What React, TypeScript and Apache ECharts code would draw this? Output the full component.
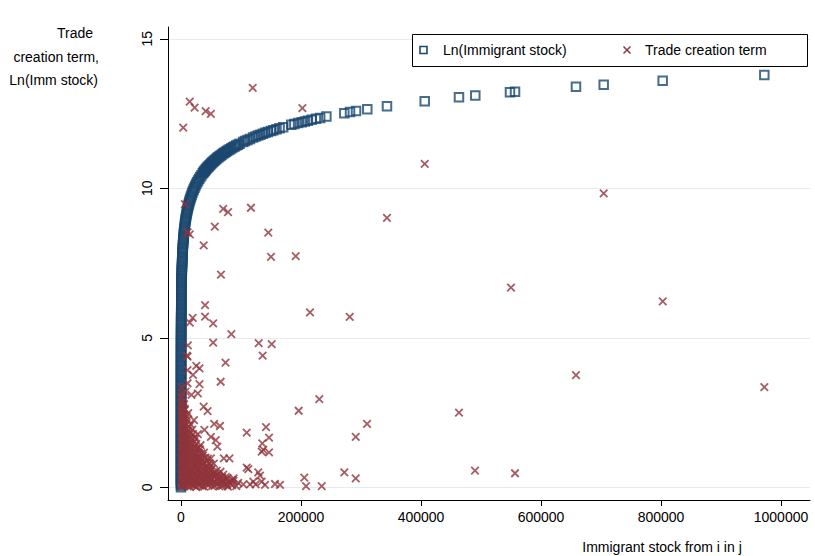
import React, { useEffect, useRef } from "react";
import * as echarts from "echarts";

const xTicks = [0, 200000, 400000, 600000, 800000, 1000000];
const yTicks = [0, 5, 10, 15];

const seriesNames = ["Ln(Immigrant stock)", "Trade creation term"];
const yTitleLines = ["Trade", "creation term,", "Ln(Imm stock)"];
const xTitle = "Immigrant stock from i in j";

// [immigrant stock, ln(immigrant stock)]
const lnImmPoints: number[][] = [
  [1, 0.0], [1, 0.06], [1, 0.12], [1, 0.18], [1, 0.24], [1, 0.3], [1, 0.36], [2, 0.42], [2, 0.48], [2, 0.54],
  [2, 0.6], [2, 0.66], [2, 0.72], [2, 0.78], [2, 0.84], [2, 0.9], [3, 0.96], [3, 1.02], [3, 1.08], [3, 1.14],
  [3, 1.2], [4, 1.26], [4, 1.32], [4, 1.38], [4, 1.44], [4, 1.5], [5, 1.56], [5, 1.62], [5, 1.68], [6, 1.74],
  [6, 1.8], [6, 1.86], [7, 1.92], [7, 1.98], [8, 2.04], [8, 2.1], [9, 2.16], [9, 2.22], [10, 2.28], [10, 2.34],
  [11, 2.4], [12, 2.46], [12, 2.52], [13, 2.58], [14, 2.64], [15, 2.7], [16, 2.76], [17, 2.82], [18, 2.88], [19, 2.94],
  [20, 3.0], [21, 3.06], [23, 3.12], [24, 3.18], [26, 3.24], [27, 3.3], [29, 3.36], [31, 3.42], [32, 3.48], [34, 3.54],
  [37, 3.6], [39, 3.66], [41, 3.72], [44, 3.78], [47, 3.84], [49, 3.9], [52, 3.96], [56, 4.02], [59, 4.08], [63, 4.14],
  [67, 4.2], [71, 4.26], [75, 4.32], [80, 4.38], [85, 4.44], [90, 4.5], [96, 4.56], [101, 4.62], [108, 4.68], [114, 4.74],
  [121, 4.8], [129, 4.86], [137, 4.92], [145, 4.98], [154, 5.04], [164, 5.1], [174, 5.16], [185, 5.22], [196, 5.28], [208, 5.34],
  [221, 5.4], [235, 5.46], [250, 5.52], [265, 5.58], [281, 5.64], [299, 5.7], [317, 5.76], [337, 5.82], [358, 5.88], [380, 5.94],
  [403, 6.0], [428, 6.06], [455, 6.12], [483, 6.18], [513, 6.24], [545, 6.3], [578, 6.36], [614, 6.42], [652, 6.48], [692, 6.54],
  [735, 6.6], [780, 6.66], [829, 6.72], [880, 6.78], [934, 6.84], [992, 6.9], [1054, 6.96],
  [1119, 7.02], [1188, 7.08], [1262, 7.14], [1339, 7.2], [1422, 7.26], [1510, 7.32], [1604, 7.38], [1703, 7.44], [1808, 7.5], [1920, 7.56],
  [2039, 7.62], [2165, 7.68], [2298, 7.74], [2441, 7.8], [2591, 7.86], [2752, 7.92], [2922, 7.98], [3102, 8.04], [3294, 8.1], [3498, 8.16],
  [3714, 8.22], [3944, 8.28], [4187, 8.34], [4447, 8.4], [4721, 8.46], [5013, 8.52], [5323, 8.58], [5653, 8.64], [6003, 8.7], [6373, 8.76],
  [6768, 8.82], [7186, 8.88], [7630, 8.94], [8103, 9.0], [8604, 9.06], [9136, 9.12], [9701, 9.18], [10301, 9.24], [10938, 9.3], [11614, 9.36],
  [12333, 9.42], [13095, 9.48], [13905, 9.54], [14765, 9.6], [15678, 9.66], [16647, 9.72], [17677, 9.78], [18770, 9.84], [19930, 9.9], [21163, 9.96],
  [22471, 10.02], [23861, 10.08], [25336, 10.14], [26903, 10.2], [28566, 10.26], [30333, 10.32], [32208, 10.38], [34200, 10.44], [36316, 10.5],
  [37421, 10.53], [38561, 10.56], [39735, 10.59], [40945, 10.62], [42192, 10.65], [43477, 10.68], [44801, 10.71], [46166, 10.74], [47572, 10.77],
  [49021, 10.8], [50514, 10.83], [52052, 10.86], [53637, 10.89], [55271, 10.92], [56954, 10.95], [58689, 10.98], [60476, 11.01], [62318, 11.04],
  [64216, 11.07], [66171, 11.1], [68187, 11.13], [70263, 11.16], [72403, 11.19], [74608, 11.22], [76880, 11.25], [79222, 11.28], [81634, 11.31],
  [84120, 11.34], [86682, 11.37], [89322, 11.4], [92042, 11.43], [94846, 11.46], [97734, 11.49],
  [103700, 11.549], [106800, 11.579], [110900, 11.616], [115000, 11.653], [120100, 11.696], [124200, 11.73], [128300, 11.762],
  [132400, 11.794], [136500, 11.824], [140700, 11.854], [144800, 11.883], [149900, 11.918], [154000, 11.945], [159100, 11.977],
  [164300, 12.01], [170400, 12.046], [183800, 12.122], [188900, 12.149], [195100, 12.181], [201200, 12.212], [206400, 12.238],
  [211500, 12.262], [217700, 12.291], [224800, 12.323], [232000, 12.354], [242300, 12.398], [272200, 12.514], [281700, 12.549],
  [291700, 12.584], [310500, 12.646], [343300, 12.746], [406200, 12.915], [463300, 13.046], [490500, 13.103], [548300, 13.215],
  [556700, 13.23], [658300, 13.397], [704500, 13.465], [802800, 13.596], [972200, 13.787],
];

// [immigrant stock, trade creation term]
const tradeCreationPoints: number[][] = [
  // scattered points
  [119500, 13.36], [14600, 12.9], [22700, 12.7], [41100, 12.58], [49800, 12.49], [3700, 12.03], [202300, 12.68],
  [406200, 10.82], [704500, 9.83], [6500, 9.47], [70300, 9.31], [78400, 9.2], [116600, 9.35], [343300, 9.01],
  [56300, 8.72], [10900, 8.53], [14600, 8.46], [145500, 8.52], [37800, 8.09], [150000, 7.71], [191200, 7.73],
  [66600, 7.11], [550000, 6.68], [802900, 6.22], [40100, 6.09], [215000, 5.85], [40100, 5.71], [19500, 5.67],
  [281200, 5.7], [14600, 5.51], [53600, 5.48], [83900, 5.12], [11400, 4.75], [53600, 4.84], [129500, 4.82],
  [151100, 4.79], [136100, 4.4], [9700, 4.4], [10900, 4.37], [74200, 4.17], [25500, 4.06], [30800, 3.98],
  [10900, 3.92], [20000, 3.76], [658300, 3.75], [66100, 3.53], [30800, 3.45], [10900, 3.48], [972200, 3.35],
  [7600, 3.2], [28100, 3.14], [17400, 3.09], [230500, 2.95], [37800, 2.7], [44300, 2.55], [196100, 2.56],
  [463300, 2.5], [6500, 2.59], [21600, 2.25], [55200, 2.12], [64900, 2.05], [310100, 2.12], [39000, 1.92],
  [109500, 1.83], [141700, 2.01], [28100, 1.78], [146700, 1.66], [49800, 1.69], [291200, 1.69], [135500, 1.47],
  [137200, 1.25], [146700, 1.17], [134500, 1.19], [58000, 1.58], [60600, 1.36], [49800, 0.97], [71400, 0.97],
  [80700, 0.97], [109500, 0.66], [128800, 0.5], [131600, 0.39], [87700, 0.3], [103800, 0.1], [115000, 0.1],
  [124500, 0.1], [140000, 0.08], [156700, 0.11], [165000, 0.08], [68700, 0.24], [76800, 0.08], [205500, 0.32],
  [208400, 0.04], [234500, 0.04], [272200, 0.5], [291200, 0.3], [490000, 0.56], [556700, 0.47], [120500, 0.19],
  [134500, 0.19], [112200, 0.61], [84900, 0.24],
  // dense cluster near the origin
  [400, 0.02], [1200, 0.11], [700, 0.2], [2100, 0.33], [900, 0.41], [1600, 0.55], [500, 0.63], [2400, 0.76],
  [1100, 0.88], [300, 0.97], [1900, 1.09], [800, 1.18], [1400, 1.31], [2200, 1.42], [600, 1.53], [1700, 1.66],
  [1000, 1.74], [2500, 1.87], [450, 1.98], [1300, 2.09], [2000, 2.21], [800, 2.35], [1500, 2.46], [350, 2.58],
  [2300, 2.71], [1100, 2.83], [600, 3.02], [1800, 3.17], [900, 3.34],
  [3100, 0.08], [2900, 0.24], [3400, 0.37], [2700, 0.47], [3300, 0.6], [3000, 0.71], [2800, 0.83], [3500, 0.94],
  [3200, 1.06], [2900, 1.22], [3300, 1.35], [3100, 1.47], [2700, 1.58], [3400, 1.71], [3000, 1.83], [2800, 1.95],
  [3200, 2.12], [3500, 2.27], [2900, 2.4], [3100, 2.53], [3300, 2.66], [2700, 2.9],
  [5200, 0.05], [4300, 0.17], [7100, 0.29], [5900, 0.4], [4700, 0.52], [7600, 0.66], [5400, 0.78], [4100, 0.91],
  [6800, 1.03], [5000, 1.14], [7900, 1.27], [4500, 1.39], [6300, 1.51], [5600, 1.63], [7300, 1.77], [4200, 1.9],
  [6600, 2.03], [5100, 2.17], [7700, 2.3], [4800, 2.44], [6100, 2.62], [5300, 2.77],
  [8700, 0.1], [9300, 0.22], [9000, 0.34], [8500, 0.46], [9500, 0.58], [8800, 0.7], [9200, 0.82], [8600, 0.94],
  [9400, 1.08], [8900, 1.2], [9100, 1.32], [8700, 1.44], [9300, 1.57], [9000, 1.7], [8600, 1.83], [9200, 1.97],
  [8800, 2.12], [9400, 2.38],
  [11200, 0.03], [13400, 0.14], [10500, 0.27], [12700, 0.38], [11800, 0.5], [13900, 0.63], [10300, 0.74],
  [12200, 0.87], [13100, 0.99], [10800, 1.12], [12500, 1.24], [11500, 1.36], [13700, 1.49], [10100, 1.62],
  [12900, 1.75], [11300, 1.89], [13500, 2.02], [10700, 2.26], [12100, 2.48],
  [15200, 0.02], [15900, 0.13], [15400, 0.25], [16100, 0.36], [15000, 0.47], [15700, 0.59], [16300, 0.72],
  [15300, 0.85], [15800, 0.97], [15100, 1.1], [16000, 1.22], [15500, 1.35], [15200, 1.5], [15900, 1.66],
  [15400, 1.82], [16200, 2.1],
  [18400, 0.07], [20300, 0.19], [17200, 0.31], [19600, 0.44], [18000, 0.57], [20800, 0.69], [17500, 0.82],
  [19100, 0.95], [20500, 1.07], [17800, 1.21], [19900, 1.33], [18600, 1.46], [17300, 1.6], [20100, 1.78], [18800, 1.93],
  [22100, 0.06], [23000, 0.18], [22400, 0.31], [22800, 0.43], [21900, 0.55], [22600, 0.68], [23200, 0.81],
  [22200, 0.93], [22900, 1.06], [22000, 1.2], [22700, 1.35], [22300, 1.52], [22800, 1.69],
  [25300, 0.01], [27400, 0.13], [24200, 0.25], [26600, 0.37], [25800, 0.49], [27900, 0.62], [24600, 0.75],
  [26200, 0.88], [27100, 1.02], [24900, 1.16], [26800, 1.29], [25500, 1.45], [24400, 1.62],
  [29100, 0.09], [29800, 0.21], [29300, 0.34], [30200, 0.47], [28900, 0.6], [29600, 0.73], [30000, 0.87],
  [29200, 1.0], [29900, 1.15], [29400, 1.32],
  [32400, 0.06], [34600, 0.18], [31300, 0.3], [33700, 0.43], [32000, 0.56], [34900, 0.7], [31800, 0.84],
  [33200, 0.98], [34100, 1.13], [31500, 1.27], [32800, 1.41],
  [35800, 0.04], [36300, 0.17], [35600, 0.31], [36500, 0.46], [35900, 0.6], [36200, 0.76], [35700, 0.92], [36400, 1.06],
  [38600, 0.02], [41200, 0.15], [37400, 0.28], [40300, 0.41], [39100, 0.54], [41700, 0.68], [37900, 0.83],
  [40800, 0.99], [38300, 1.16],
  [42700, 0.11], [43400, 0.25], [42900, 0.4], [43200, 0.56], [42600, 0.72], [43500, 0.88],
  [45600, 0.08], [47500, 0.21], [44300, 0.35], [46800, 0.49], [45100, 0.64], [47200, 0.8], [44700, 0.96],
  [48700, 0.13], [49300, 0.27], [48900, 0.42], [49500, 0.57], [48600, 0.72],
  [51800, 0.04], [54300, 0.17], [50600, 0.31], [53200, 0.46], [51200, 0.62], [54700, 0.79],
  [55800, 0.05], [56400, 0.2], [55900, 0.33], [56600, 0.48],
  [58400, 0.1], [60700, 0.24], [57300, 0.39], [59600, 0.56],
  [61800, 0.13], [62500, 0.29], [62100, 0.44],
  [64100, 0.03], [66500, 0.18], [63500, 0.36], [65800, 0.52],
  [68500, 0.05], [69200, 0.17], [68900, 0.33],
  [71200, 0.09], [73600, 0.26], [70400, 0.42],
  [75200, 0.12], [74800, 0.35],
  [78300, 0.02], [80600, 0.18], [77400, 0.31],
  [82300, 0.12],
  [85200, 0.07], [87500, 0.22],
  [92100, 0.04], [95300, 0.15],
];

const NAVY = "#1a476f";
const MAROON = "#90353b";
const FONT = "'Liberation Sans', Arial, sans-serif";

export default function App() {
  const ref = useRef<HTMLDivElement>(null);
  useEffect(() => {
    const chart = echarts.init(ref.current!, null, { renderer: "svg" });
    chart.setOption({
      animation: false,
      backgroundColor: "#fff",
      textStyle: { fontFamily: FONT },
      grid: { left: 168, right: 5, top: 27, bottom: 56, outerBoundsMode: "none", containLabel: false },
      xAxis: {
        type: "value",
        min: -21667,
        max: 1048333,
        axisLine: { show: true, onZero: false, lineStyle: { color: "#000", width: 1 } },
        axisTick: { show: true, length: 6, customValues: xTicks, lineStyle: { color: "#000" } },
        axisLabel: {
          customValues: xTicks,
          margin: 10,
          fontSize: 14,
          color: "#000",
          fontFamily: FONT,
          formatter: (v: number) => String(v),
        },
        splitLine: { show: false },
      },
      yAxis: {
        type: "value",
        min: -0.425,
        max: 15.395,
        axisLine: { show: true, onZero: false, lineStyle: { color: "#000", width: 1 } },
        axisTick: { show: true, length: 8, customValues: yTicks, lineStyle: { color: "#000" } },
        axisLabel: {
          customValues: yTicks,
          rotate: 90,
          margin: 14,
          fontSize: 14,
          color: "#000",
          fontFamily: FONT,
          formatter: (v: number) => String(v),
        },
        splitLine: { show: true, lineStyle: { color: "#e4ecef", width: 1 } },
      },
      series: [
        {
          type: "scatter",
          name: seriesNames[0],
          data: lnImmPoints,
          symbol: "rect",
          symbolSize: 8.5,
          itemStyle: { color: "rgba(0,0,0,0)", borderColor: NAVY, borderWidth: 2 },
          z: 2,
        },
        {
          type: "scatter",
          name: seriesNames[1],
          data: tradeCreationPoints,
          symbol: "path://M0 0L10 10M10 0L0 10",
          symbolSize: 7.5,
          itemStyle: { color: "rgba(0,0,0,0)", borderColor: MAROON, borderWidth: 1.8 },
          z: 3,
        },
      ],
      graphic: [
        {
          type: "rect",
          z: 10,
          shape: { x: 412.5, y: 34.5, width: 395, height: 32 },
          style: { fill: "#fff", stroke: "#000", lineWidth: 1 },
        },
        {
          type: "rect",
          z: 11,
          shape: { x: 420, y: 46.5, width: 7, height: 7 },
          style: { fill: "none", stroke: NAVY, lineWidth: 1.6 },
        },
        {
          type: "text",
          z: 11,
          x: 443,
          y: 50,
          style: { text: seriesNames[0], fontSize: 14, fill: "#000", verticalAlign: "middle", fontFamily: FONT },
        },
        {
          type: "line",
          z: 11,
          shape: { x1: 623.5, y1: 46.5, x2: 630.5, y2: 53.5 },
          style: { stroke: MAROON, lineWidth: 1.5 },
        },
        {
          type: "line",
          z: 11,
          shape: { x1: 630.5, y1: 46.5, x2: 623.5, y2: 53.5 },
          style: { stroke: MAROON, lineWidth: 1.5 },
        },
        {
          type: "text",
          z: 11,
          x: 645,
          y: 50,
          style: { text: seriesNames[1], fontSize: 14, fill: "#000", verticalAlign: "middle", fontFamily: FONT },
        },
        {
          type: "text",
          x: 93,
          y: 33,
          style: { text: yTitleLines[0], fontSize: 14, fill: "#000", align: "right", verticalAlign: "middle", fontFamily: FONT },
        },
        {
          type: "text",
          x: 99,
          y: 57,
          style: { text: yTitleLines[1], fontSize: 14, fill: "#000", align: "right", verticalAlign: "middle", fontFamily: FONT },
        },
        {
          type: "text",
          x: 98,
          y: 80,
          style: { text: yTitleLines[2], fontSize: 14, fill: "#000", align: "right", verticalAlign: "middle", fontFamily: FONT },
        },
        {
          type: "text",
          x: 662,
          y: 547,
          style: { text: xTitle, fontSize: 14, fill: "#000", align: "center", verticalAlign: "middle", fontFamily: FONT },
        },
      ],
    });
    return () => chart.dispose();
  }, []);
  return <div ref={ref} style={{ position: "fixed", left: 0, top: 0, width: 815, height: 556 }} />;
}
